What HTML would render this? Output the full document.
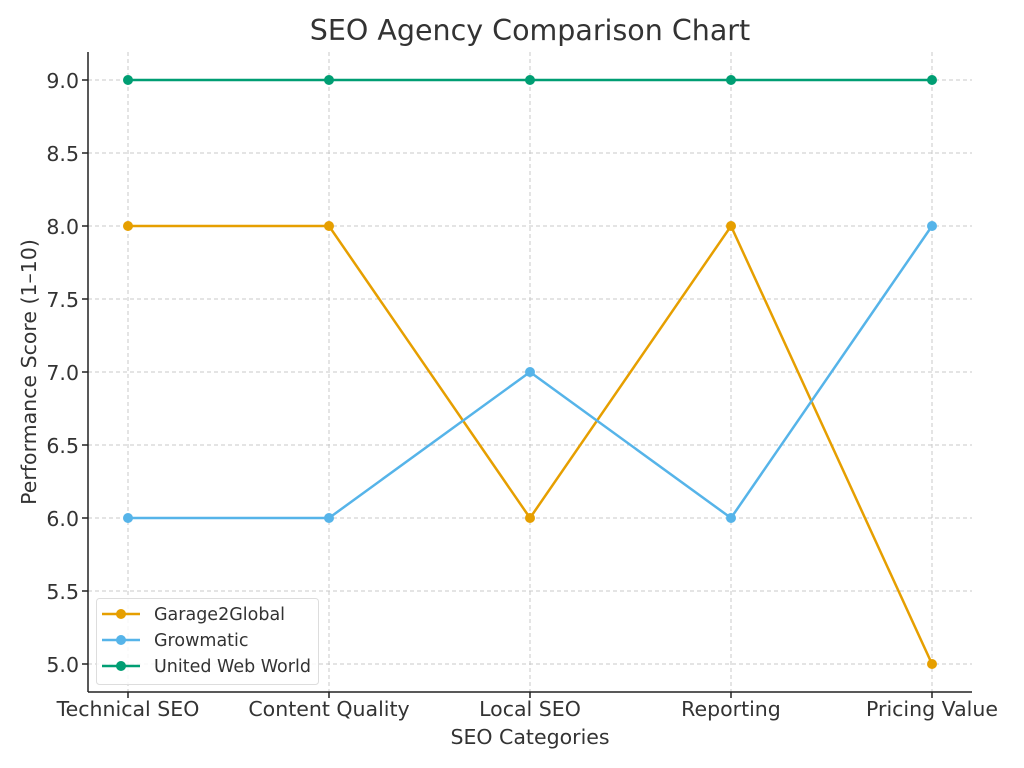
<!DOCTYPE html>
<html><head><meta charset="utf-8"><style>body{margin:0;background:#fff}svg{display:block}text{font-family:"DejaVu Sans","Liberation Sans",sans-serif;fill:#333}</style></head><body>
<svg width="1024" height="768" viewBox="0 0 1024 768">
<text x="530" y="40" font-size="28.5" text-anchor="middle">SEO Agency Comparison Chart</text>
<g stroke="#c8c8c8" stroke-dasharray="4,3" stroke-width="1">
<line x1="128" y1="52" x2="128" y2="692"/><line x1="329" y1="52" x2="329" y2="692"/><line x1="530" y1="52" x2="530" y2="692"/><line x1="731" y1="52" x2="731" y2="692"/><line x1="932" y1="52" x2="932" y2="692"/>
<line x1="88" y1="80" x2="972" y2="80"/><line x1="88" y1="153" x2="972" y2="153"/><line x1="88" y1="226" x2="972" y2="226"/><line x1="88" y1="299" x2="972" y2="299"/><line x1="88" y1="372" x2="972" y2="372"/><line x1="88" y1="445" x2="972" y2="445"/><line x1="88" y1="518" x2="972" y2="518"/><line x1="88" y1="591" x2="972" y2="591"/><line x1="88" y1="664" x2="972" y2="664"/>
</g>
<g stroke="#222" stroke-width="1.5"><line x1="88" y1="52" x2="88" y2="692"/><line x1="88" y1="692" x2="972" y2="692"/>
<line x1="82" y1="80" x2="88" y2="80"/><line x1="82" y1="153" x2="88" y2="153"/><line x1="82" y1="226" x2="88" y2="226"/><line x1="82" y1="299" x2="88" y2="299"/><line x1="82" y1="372" x2="88" y2="372"/><line x1="82" y1="445" x2="88" y2="445"/><line x1="82" y1="518" x2="88" y2="518"/><line x1="82" y1="591" x2="88" y2="591"/><line x1="82" y1="664" x2="88" y2="664"/>
<line x1="128" y1="692" x2="128" y2="698"/><line x1="329" y1="692" x2="329" y2="698"/><line x1="530" y1="692" x2="530" y2="698"/><line x1="731" y1="692" x2="731" y2="698"/><line x1="932" y1="692" x2="932" y2="698"/></g>
<g font-size="20.5" text-anchor="end"><text x="79" y="88">9.0</text><text x="79" y="161">8.5</text><text x="79" y="234">8.0</text><text x="79" y="307">7.5</text><text x="79" y="380">7.0</text><text x="79" y="453">6.5</text><text x="79" y="526">6.0</text><text x="79" y="599">5.5</text><text x="79" y="672">5.0</text></g>
<g font-size="20.5" text-anchor="middle"><text x="128" y="716">Technical SEO</text><text x="329" y="716">Content Quality</text><text x="530" y="716">Local SEO</text><text x="731" y="716">Reporting</text><text x="932" y="716">Pricing Value</text>
<text x="530" y="744">SEO Categories</text>
<text transform="translate(36,372) rotate(-90)">Performance Score (1–10)</text></g>
<polyline fill="none" stroke="#e69f00" stroke-width="2.5" points="128,226 329,226 530,518 731,226 932,664"/>
<polyline fill="none" stroke="#56b4e9" stroke-width="2.5" points="128,518 329,518 530,372 731,518 932,226"/>
<polyline fill="none" stroke="#009e73" stroke-width="2.5" points="128,80 329,80 530,80 731,80 932,80"/>
<g fill="#e69f00"><circle cx="128" cy="226" r="5"/><circle cx="329" cy="226" r="5"/><circle cx="530" cy="518" r="5"/><circle cx="731" cy="226" r="5"/><circle cx="932" cy="664" r="5"/></g>
<g fill="#56b4e9"><circle cx="128" cy="518" r="5"/><circle cx="329" cy="518" r="5"/><circle cx="530" cy="372" r="5"/><circle cx="731" cy="518" r="5"/><circle cx="932" cy="226" r="5"/></g>
<g fill="#009e73"><circle cx="128" cy="80" r="5"/><circle cx="329" cy="80" r="5"/><circle cx="530" cy="80" r="5"/><circle cx="731" cy="80" r="5"/><circle cx="932" cy="80" r="5"/></g>
<rect x="96.5" y="598.5" width="222" height="86" rx="3" fill="#fff" fill-opacity="0.85" stroke="#ddd"/>
<g stroke-width="2.5"><line x1="102" y1="614" x2="140" y2="614" stroke="#e69f00"/><line x1="102" y1="640" x2="140" y2="640" stroke="#56b4e9"/><line x1="102" y1="666" x2="140" y2="666" stroke="#009e73"/></g>
<circle cx="121" cy="614" r="5" fill="#e69f00"/><circle cx="121" cy="640" r="5" fill="#56b4e9"/><circle cx="121" cy="666" r="5" fill="#009e73"/>
<g font-size="17.5"><text x="154" y="620">Garage2Global</text><text x="154" y="646">Growmatic</text><text x="154" y="672">United Web World</text></g>
</svg></body></html>
